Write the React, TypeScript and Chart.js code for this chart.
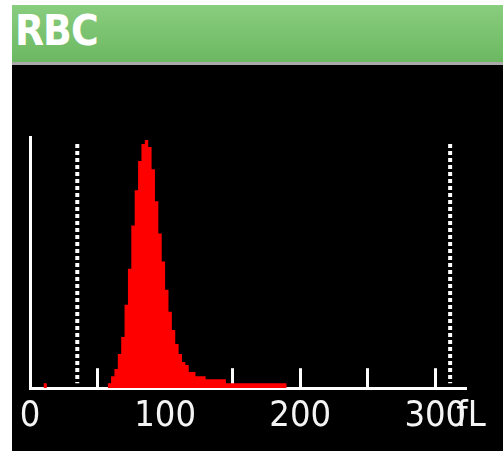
import { useEffect, useRef } from 'react';
import { Chart, registerables } from 'chart.js';

Chart.register(...registerables);

// ---- data ----
const panelTitle = 'RBC';
const unitLabel = 'fL';
const binStart = 57.5; // fL, left edge of first histogram bin
const binWidth = 2.5; // fL
const rbcCounts = [
  5, 12, 19, 34, 51, 83, 119, 162, 197, 226, 243, 247, 240, 218, 186, 154, 126, 98,
  76, 58, 44, 34, 26, 23, 16, 16, 12, 12, 12, 9, 9, 9, 9, 9, 9,
  5, 5, 5, 5, 5, 5, 5, 5, 5, 5, 5, 5, 5, 5, 5, 5, 5, 5,
];
const markerBins = [10];
const markerCounts = [5];
const labelledTicks = [0, 100, 200, 300];
const tickStep = 50;
const xMax = 322;
const yMax = 250;
const discriminators = [35, 311];
const discriminatorSpan = [243, 5];

const FONT = "'DejaVu Sans Condensed', 'Liberation Sans Narrow', 'DejaVu Sans', sans-serif";
const TICK_LEN = -20;
const TICK_PAD = 27;
const TICK_FONT = 36;
const TICK_LH = 1.2;
const X_SCALE_HEIGHT = TICK_LEN + TICK_PAD + TICK_FONT * TICK_LH;

const unitPlugin = {
  id: 'unitLabel',
  afterDraw(chart: any) {
    const s = chart.scales.x;
    const ctx = chart.ctx;
    ctx.save();
    ctx.font = `${TICK_FONT}px ${FONT}`;
    ctx.fillStyle = '#f4f4f4';
    ctx.textBaseline = 'middle';
    ctx.textAlign = 'left';
    const y = s.top + TICK_LEN + TICK_PAD + (TICK_FONT * TICK_LH) / 2;
    ctx.fillText(unitLabel, s.getPixelForValue(labelledTicks[labelledTicks.length - 1]) + 21, y);
    ctx.restore();
  },
};

export default function App() {
  const ref = useRef<HTMLCanvasElement | null>(null);

  useEffect(() => {
    if (!ref.current) return;
    const hist = rbcCounts.map((c, i) => ({ x: binStart + i * binWidth, y: c }));
    hist.push({ x: binStart + rbcCounts.length * binWidth, y: 0 });
    const marker: { x: number; y: number }[] = [];
    markerBins.forEach((b, i) => {
      marker.push({ x: b, y: markerCounts[i] });
      marker.push({ x: b + binWidth, y: 0 });
    });
    const dotted = discriminators.map((d) => ({
      type: 'line' as const,
      data: discriminatorSpan.map((y) => ({ x: d, y })),
      borderColor: '#ffffff',
      borderWidth: 4,
      borderDash: [4, 3],
      borderCapStyle: 'butt' as const,
      pointRadius: 0,
      fill: false,
    }));

    const chart = new Chart(ref.current, {
      type: 'line',
      data: {
        datasets: [
          {
            data: hist,
            stepped: true,
            fill: 'origin',
            backgroundColor: '#ff0000',
            borderColor: 'transparent',
            borderWidth: 0,
            pointRadius: 0,
          },
          {
            data: marker,
            stepped: true,
            fill: 'origin',
            backgroundColor: '#ff0000',
            borderColor: 'transparent',
            borderWidth: 0,
            pointRadius: 0,
          },
          ...dotted,
        ] as any,
      },
      options: {
        animation: false,
        responsive: false,
        events: [],
        layout: { padding: { left: 18, top: 72, right: 38, bottom: 12.6 } },
        plugins: { legend: { display: false }, tooltip: { enabled: false } },
        scales: {
          x: {
            type: 'linear',
            min: 0,
            max: xMax,
            afterFit: (s: any) => {
              s.paddingLeft = 0;
              s.paddingRight = 0;
              s.height = X_SCALE_HEIGHT;
            },
            grid: {
              display: true,
              drawOnChartArea: false,
              drawTicks: true,
              tickLength: TICK_LEN,
              tickWidth: 3,
              tickColor: '#ffffff',
              lineWidth: 3,
              color: '#ffffff',
            },
            border: { display: true, color: '#ffffff', width: 3 },
            ticks: {
              stepSize: tickStep,
              includeBounds: false,
              autoSkip: false,
              maxRotation: 0,
              minRotation: 0,
              padding: TICK_PAD,
              color: '#f4f4f4',
              font: { family: FONT, size: TICK_FONT, lineHeight: TICK_LH },
              callback: (v: any) => (labelledTicks.includes(Number(v)) ? String(v) : ''),
            },
          },
          y: {
            type: 'linear',
            min: 0,
            max: yMax,
            afterFit: (s: any) => {
              s.width = 0;
            },
            grid: { display: false, drawTicks: false },
            border: { display: true, color: '#ffffff', width: 3 },
            ticks: { display: false },
          },
        },
      },
      plugins: [unitPlugin],
    });
    return () => chart.destroy();
  }, []);

  return (
    <div
      style={{
        position: 'absolute',
        left: 12,
        top: 5,
        width: 491,
        height: 446,
        background: '#000',
        overflow: 'hidden',
      }}
    >
      <div
        style={{
          position: 'relative',
          height: 57,
          background: 'linear-gradient(#89cd7e, #6cb862)',
          borderBottom: '3px solid #a9a9a9',
        }}
      >
        <span
          style={{
            position: 'absolute',
            left: 3,
            top: 4,
            color: '#ffffff',
            fontFamily: FONT,
            fontWeight: 'bold',
            fontSize: 42,
            letterSpacing: '-1px',
            lineHeight: '44px',
          }}
        >
          {panelTitle}
        </span>
      </div>
      <canvas ref={ref} width={491} height={386} style={{ display: 'block' }} />
    </div>
  );
}
